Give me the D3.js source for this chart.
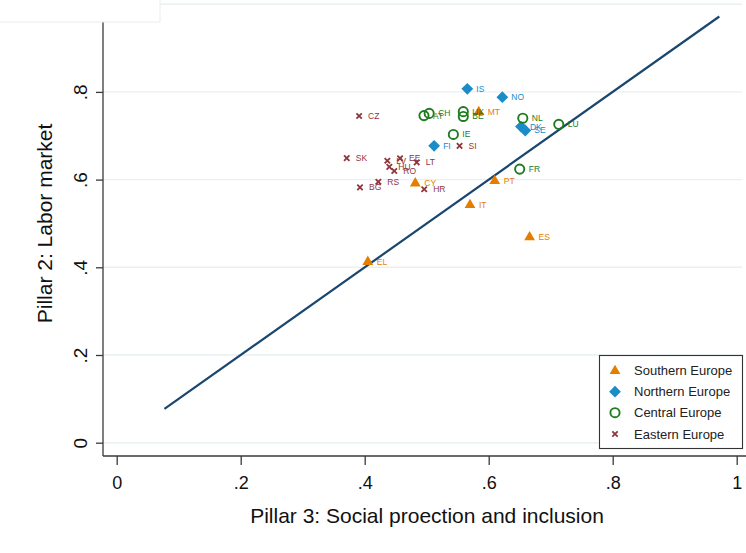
<!DOCTYPE html>
<html>
<head>
<meta charset="utf-8">
<script src="https://cdn.jsdelivr.net/npm/d3@7"></script>
<style>
  html, body { margin: 0; padding: 0; background: #fff; }
  svg { display: block; font-family: Arial, "Liberation Sans", sans-serif; }
</style>
</head>
<body>
<svg id="chart" width="746" height="553"></svg>
<script>
// ---- data ----
const southernCodes = ["EL", "CY", "IT", "PT", "ES", "MT"];
const southernX = [0.405, 0.4816, 0.5698, 0.6097, 0.666, 0.584];
const southernY = [0.413, 0.592, 0.5425, 0.5975, 0.469, 0.755];

const northernCodes = ["IS", "NO", "DK", "SE", "FI"];
const northernX = [0.5655, 0.622, 0.652, 0.659, 0.512];
const northernY = [0.807, 0.788, 0.721, 0.712, 0.677];

const centralCodes = ["AT", "CH", "UK", "BE", "NL", "LU", "IE", "FR"];
const centralX = [0.4956, 0.504, 0.559, 0.559, 0.655, 0.713, 0.543, 0.650];
const centralY = [0.746, 0.751, 0.755, 0.744, 0.740, 0.726, 0.703, 0.624];

const easternCodes = ["CZ", "SK", "LV", "EE", "HU", "RO", "LT", "SI", "RS", "BG", "HR"];
const easternX = [0.391, 0.371, 0.4365, 0.457, 0.4397, 0.4477, 0.4839, 0.553, 0.422, 0.3924, 0.496];
const easternY = [0.745, 0.649, 0.643, 0.6486, 0.629, 0.6196, 0.6394, 0.677, 0.595, 0.5824, 0.578];

const refLineX = [0.077, 0.972];
const refLineY = [0.077, 0.972];

const xTicks = [0, 0.2, 0.4, 0.6, 0.8, 1];
const xTickLabels = ["0", ".2", ".4", ".6", ".8", "1"];
const yTicks = [0, 0.2, 0.4, 0.6, 0.8];
const yTickLabels = ["0", ".2", ".4", ".6", ".8"];
const yGrid = [0, 0.2, 0.4, 0.6, 0.8, 1];

const groupNames = ["Southern Europe", "Northern Europe", "Central Europe", "Eastern Europe"];
const xTitle = "Pillar 3: Social proection and inclusion";
const yTitle = "Pillar 2: Labor market";

// ---- build ----
const colors = ["#e37e00", "#1a8cc8", "#1e7b1e", "#90353b"];
const shapes = ["triangle", "diamond", "circle", "cross"];
const groups = [
  {codes: southernCodes, xs: southernX, ys: southernY},
  {codes: northernCodes, xs: northernX, ys: northernY},
  {codes: centralCodes, xs: centralX, ys: centralY},
  {codes: easternCodes, xs: easternX, ys: easternY}
].map((g, i) => ({
  name: groupNames[i], color: colors[i], shape: shapes[i],
  pts: g.codes.map((c, j) => ({code: c, x: g.xs[j], y: g.ys[j]}))
}));

const svg = d3.select("#chart");
svg.append("rect").attr("width", 746).attr("height", 553).attr("fill", "#fff");

const x = d3.scaleLinear().domain([0, 1]).range([116.7, 736.7]);
const y = d3.scaleLinear().domain([0, 1]).range([442.7, 4.2]);

const axisLeftX = 103, axisBottomY = 456, plotRight = 742;

// gridlines
svg.append("g").selectAll("line").data(yGrid).join("line")
  .attr("x1", axisLeftX).attr("x2", plotRight)
  .attr("y1", d => y(d)).attr("y2", d => y(d))
  .attr("stroke", "#e9f0f2").attr("stroke-width", 1.4);

// reference line
svg.append("path")
  .datum(refLineX.map((v, i) => [v, refLineY[i]]))
  .attr("d", d3.line().x(d => x(d[0])).y(d => y(d[1])))
  .attr("fill", "none").attr("stroke", "#1a476f").attr("stroke-width", 2.2);

// axes
const axisColor = "#3a3a3a";
const xAxis = d3.axisBottom(x).tickValues(xTicks).tickFormat((d, i) => xTickLabels[i])
  .tickSize(9).tickPadding(8).tickSizeOuter(0);
const gx = svg.append("g").attr("transform", `translate(0,${axisBottomY})`).call(xAxis);
gx.select(".domain").remove();
gx.selectAll(".tick line").attr("stroke", axisColor).attr("stroke-width", 1.3);
gx.selectAll(".tick text").attr("font-size", 18).attr("fill", "#111")
  .attr("font-family", "Arial, 'Liberation Sans', sans-serif").attr("y", 33).attr("dy", 0);
svg.append("line").attr("x1", axisLeftX).attr("x2", 746)
  .attr("y1", axisBottomY).attr("y2", axisBottomY)
  .attr("stroke", axisColor).attr("stroke-width", 1.3);

const yAxis = d3.axisLeft(y).tickValues(yTicks).tickFormat((d, i) => yTickLabels[i])
  .tickSize(7).tickSizeOuter(0);
const gy = svg.append("g").attr("transform", `translate(${axisLeftX},0)`).call(yAxis);
gy.select(".domain").remove();
gy.selectAll(".tick line").attr("stroke", axisColor).attr("stroke-width", 1.3);
gy.selectAll(".tick text")
  .attr("font-size", 19).attr("fill", "#111")
  .attr("font-family", "Arial, 'Liberation Sans', sans-serif")
  .attr("x", null).attr("dy", null)
  .attr("text-anchor", "middle")
  .attr("transform", "translate(-16.5,0) rotate(-90)")
  .attr("y", 0);
svg.append("line").attr("x1", axisLeftX).attr("x2", axisLeftX)
  .attr("y1", 0).attr("y2", axisBottomY)
  .attr("stroke", axisColor).attr("stroke-width", 1.3);

// axis titles
svg.append("text").attr("x", 427).attr("y", 523).attr("text-anchor", "middle")
  .attr("font-size", 21).attr("fill", "#111").text(xTitle);
svg.append("text").attr("transform", `translate(51.5,${(y(0) + y(1)) / 2}) rotate(-90)`)
  .attr("text-anchor", "middle").attr("font-size", 21).attr("fill", "#111").text(yTitle);

// marker drawing
function drawMarker(sel, shape, color) {
  if (shape === "triangle") {
    sel.append("path").attr("d", "M0,-6 L5.4,3.3 L-5.4,3.3 Z").attr("fill", color);
  } else if (shape === "diamond") {
    sel.append("path").attr("d", "M0,-5.9 L5.9,0 L0,5.9 L-5.9,0 Z").attr("fill", color);
  } else if (shape === "circle") {
    sel.append("circle").attr("r", 4.6).attr("fill", "none")
      .attr("stroke", color).attr("stroke-width", 1.9);
  } else {
    sel.append("path").attr("d", "M-2.7,-2.7 L2.7,2.7 M-2.7,2.7 L2.7,-2.7")
      .attr("stroke", color).attr("stroke-width", 1.8).attr("fill", "none");
  }
}

// points
groups.forEach(g => {
  const gg = svg.append("g");
  const pts = gg.selectAll("g").data(g.pts).join("g")
    .attr("transform", d => `translate(${x(d.x)},${y(d.y)})`);
  pts.each(function() { drawMarker(d3.select(this), g.shape, g.color); });
  pts.append("text").attr("x", 9).attr("dy", "0.35em")
    .attr("font-size", 8.5).attr("fill", g.color).text(d => d.code);
});

// legend
const lg = svg.append("g");
lg.append("rect").attr("x", 599.5).attr("y", 355.5).attr("width", 143).attr("height", 93)
  .attr("fill", "#fff").attr("stroke", "#333").attr("stroke-width", 1.1);
const rowY = [370.7, 391.7, 412.7, 434];
groups.forEach((g, i) => {
  const r = lg.append("g").attr("transform", `translate(615,${rowY[i]})`);
  drawMarker(r, g.shape, g.color);
  lg.append("text").attr("x", 634).attr("y", rowY[i]).attr("dy", "0.35em")
    .attr("font-size", 13).attr("fill", "#222").text(g.name);
});

// white cover box at top-left (as in reference)
svg.append("rect").attr("x", -1).attr("y", -1).attr("width", 161).attr("height", 23)
  .attr("fill", "#fff").attr("stroke", "#ebebeb").attr("stroke-width", 1);
</script>
</body>
</html>
